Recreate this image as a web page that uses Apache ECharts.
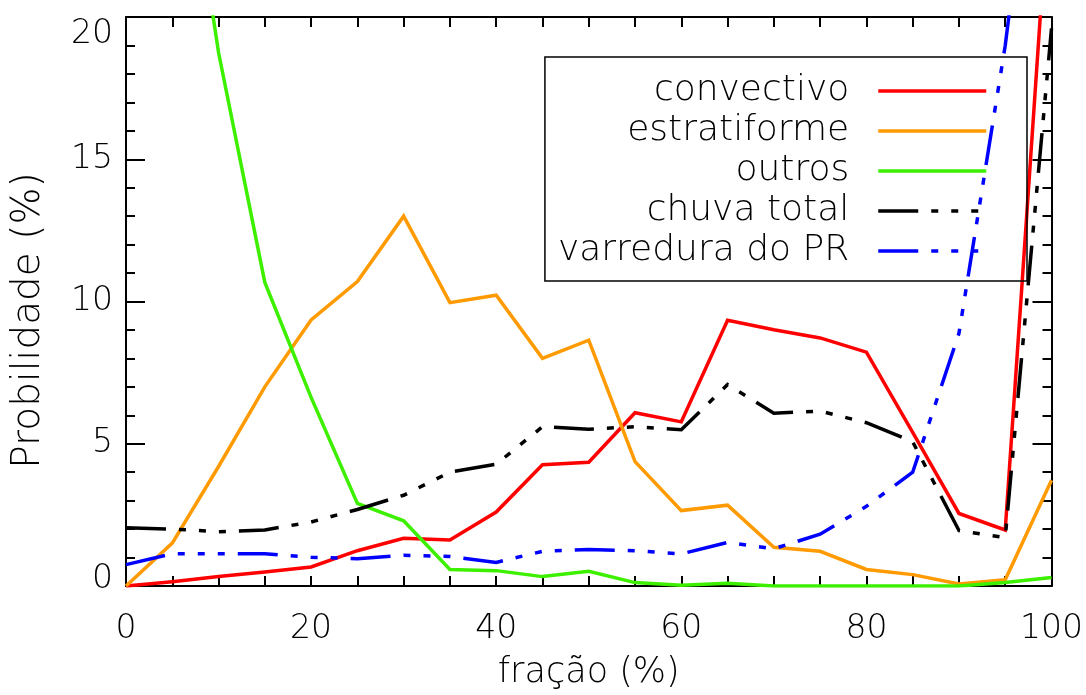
<!DOCTYPE html>
<html>
<head>
<meta charset="utf-8">
<script src="https://cdn.jsdelivr.net/npm/echarts@6/dist/echarts.min.js"></script>
<style>
  html, body { margin: 0; padding: 0; background: #fff; }
  #chart { width: 1086px; height: 695px; }
</style>
</head>
<body>
<div id="chart"></div>
<script>
// Fração (%) sampled every 5 %
const fracao = [0, 5, 10, 15, 20, 25, 30, 35, 40, 45, 50, 55, 60, 65, 70, 75, 80, 85, 90, 95, 100];

// Probabilidade (%) for each class
const convectivo   = [0, 0.15, 0.33, 0.49, 0.67, 1.24, 1.68, 1.62, 2.6, 4.26, 4.35, 6.09, 5.77, 9.34, 9.01, 8.72, 8.22, 5.4, 2.55, 1.97, 25.8];
const estratiforme = [0, 1.51, 4.2, 7.0, 9.35, 10.7, 13.0, 9.96, 10.22, 8.0, 8.64, 4.37, 2.65, 2.84, 1.36, 1.22, 0.58, 0.4, 0.07, 0.22, 3.72];
const outros       = [40, 29.5, 18.75, 10.67, 6.63, 2.9, 2.29, 0.58, 0.54, 0.33, 0.52, 0.12, 0.03, 0.1, 0, 0, 0, 0, 0, 0.12, 0.3];
const chuvaTotal   = [2.05, 2.0, 1.91, 1.97, 2.25, 2.69, 3.19, 4.0, 4.28, 5.6, 5.51, 5.6, 5.49, 7.08, 6.07, 6.15, 5.74, 5.07, 1.95, 1.70, 19.6];
const varreduraPR  = [0.75, 1.13, 1.13, 1.13, 1.01, 0.96, 1.08, 1.04, 0.83, 1.22, 1.28, 1.24, 1.13, 1.53, 1.31, 1.82, 2.8, 4.0, 8.88, 19.0, 32];

const seriesNames = ['convectivo', 'estratiforme', 'outros', 'chuva total', 'varredura do PR'];
const seriesData  = [convectivo, estratiforme, outros, chuvaTotal, varreduraPR];
const seriesColors = ['#ff0000', '#ff9a00', '#3cf000', '#000000', '#0000ff'];
// long dash followed by three short dashes
const dashDotDotDot = [40, 13, 7, 13, 7, 13, 7, 13];
const seriesDash  = ['solid', 'solid', 'solid', dashDotDotDot, dashDotDotDot];

const FONT = 'DejaVu Sans';
const WEIGHT = 200;
const LINE_W = 3.5;

const pairs = (ys) => fracao.map((x, i) => [x, ys[i]]);

const frameLine = { show: true, onZero: false, lineStyle: { color: '#000', width: 2 } };

const chart = echarts.init(document.getElementById('chart'), null, { renderer: 'canvas' });

chart.setOption({
  animation: false,
  backgroundColor: '#ffffff',
  grid: { left: 126, right: 34, top: 17, bottom: 103, containLabel: false },
  legend: {
    orient: 'vertical',
    align: 'right',
    right: 59,
    top: 57,
    itemWidth: 108,
    itemHeight: 14,
    itemGap: 4,
    padding: [16, 39, 12, 13],
    borderColor: '#000',
    borderWidth: 1.5,
    borderRadius: 0,
    selectedMode: false,
    itemStyle: { opacity: 0 },
    lineStyle: { width: LINE_W },
    textStyle: {
      fontFamily: FONT, fontWeight: WEIGHT, fontSize: 36, color: '#000',
      lineHeight: 32, padding: [0, 24, 0, 0]
    },
    data: seriesNames
  },
  xAxis: [
    {
      type: 'value', position: 'bottom', min: 0, max: 100, interval: 20,
      name: 'fração (%)', nameLocation: 'middle', nameGap: 69,
      nameTextStyle: { fontFamily: FONT, fontWeight: WEIGHT, fontSize: 35, color: '#000' },
      axisLine: frameLine,
      axisTick: { show: true, inside: true, length: 10, lineStyle: { color: '#000', width: 2 } },
      minorTick: { show: true, splitNumber: 4, length: 10, lineStyle: { color: '#000', width: 2 } },
      axisLabel: { show: true, margin: 27, fontFamily: FONT, fontWeight: WEIGHT, fontSize: 33, color: '#000' },
      splitLine: { show: false },
      minorSplitLine: { show: false }
    },
    {
      type: 'value', position: 'top', min: 0, max: 100, interval: 20,
      axisLine: frameLine,
      axisTick: { show: true, inside: true, length: 10, lineStyle: { color: '#000', width: 2 } },
      minorTick: { show: true, splitNumber: 4, length: 10, lineStyle: { color: '#000', width: 2 } },
      axisLabel: { show: false },
      splitLine: { show: false }
    }
  ],
  yAxis: [
    {
      type: 'value', position: 'left', min: 0, max: 20, interval: 5,
      name: 'Probilidade (%)', nameLocation: 'middle', nameGap: 78, nameRotate: 90,
      nameTextStyle: { fontFamily: FONT, fontWeight: WEIGHT, fontSize: 39, color: '#000', padding: [0, 38, 0, 0] },
      axisLine: frameLine,
      axisTick: { show: true, inside: true, length: 19, lineStyle: { color: '#000', width: 2 } },
      minorTick: { show: true, splitNumber: 5, length: 9, lineStyle: { color: '#000', width: 2 } },
      axisLabel: {
        show: true, margin: 13, fontFamily: FONT, fontWeight: WEIGHT, fontSize: 33, color: '#000',
        lineHeight: 13, padding: [11, 0, 0, 0],
        verticalAlignMinLabel: 'bottom', verticalAlignMaxLabel: 'top'
      },
      splitLine: { show: false }
    },
    {
      type: 'value', position: 'right', min: 0, max: 20, interval: 5,
      axisLine: frameLine,
      axisTick: { show: true, inside: true, length: 19, lineStyle: { color: '#000', width: 2 } },
      minorTick: { show: true, splitNumber: 5, length: 9, lineStyle: { color: '#000', width: 2 } },
      axisLabel: { show: false },
      splitLine: { show: false }
    }
  ],
  series: seriesNames.map((name, k) => ({
    name: name,
    type: 'line',
    xAxisIndex: 0,
    yAxisIndex: 0,
    data: pairs(seriesData[k]),
    symbol: 'none',
    clip: true,
    color: seriesColors[k],
    lineStyle: { color: seriesColors[k], width: LINE_W, type: seriesDash[k], cap: 'butt', join: 'miter' },
    emphasis: { disabled: true }
  }))
});
</script>
</body>
</html>
